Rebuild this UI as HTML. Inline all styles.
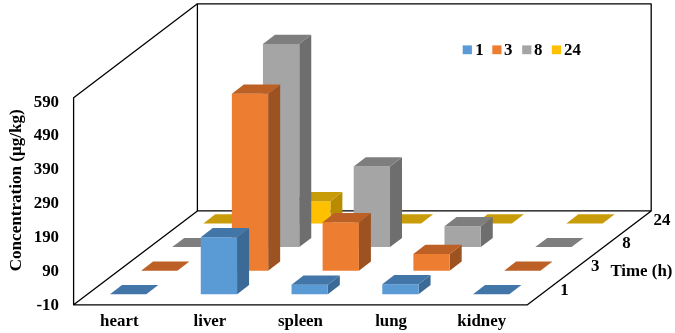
<!DOCTYPE html>
<html><head><meta charset="utf-8"><title>Chart</title>
<style>
html,body{margin:0;padding:0;background:#fff;}
svg{display:block;}
text{font-family:"Liberation Serif","Times New Roman",serif;font-weight:bold;font-size:16px;fill:#000;}
</style></head><body>
<svg width="675" height="333" viewBox="0 0 675 333">
<rect width="675" height="333" fill="#fff"/>
<g fill="none" stroke="#000" stroke-width="1.3" stroke-linejoin="round">
<polyline points="73.60,304.85 73.60,97.70 197.40,3.80 651.20,3.80 651.20,210.95 527.40,304.85 73.60,304.85 197.40,210.95 651.20,210.95"/>
<line x1="197.39999999999998" y1="3.799999999999997" x2="197.39999999999998" y2="210.95000000000002"/>
</g>
<polygon fill="#C89B08" points="203.30,223.50 239.60,223.50 251.60,214.30 215.30,214.30"/>
<polygon fill="#B88B00" points="330.36,223.50 342.36,214.30 342.36,192.00 330.36,201.20"/>
<polygon fill="#FFC000" points="294.06,223.50 330.36,223.50 330.36,201.20 294.06,201.20"/>
<polygon fill="#C89B08" points="294.06,201.20 330.36,201.20 342.36,192.00 306.06,192.00"/>
<polygon fill="#C89B08" points="384.82,223.50 421.12,223.50 433.12,214.30 396.82,214.30"/>
<polygon fill="#C89B08" points="475.58,223.50 511.88,223.50 523.88,214.30 487.58,214.30"/>
<polygon fill="#C89B08" points="566.34,223.50 602.64,223.50 614.64,214.30 578.34,214.30"/>
<polygon fill="#7E7E7E" points="172.20,247.10 208.50,247.10 220.50,237.90 184.20,237.90"/>
<polygon fill="#6E6E6E" points="299.26,247.10 311.26,237.90 311.26,34.80 299.26,44.00"/>
<polygon fill="#A5A5A5" points="262.96,247.10 299.26,247.10 299.26,44.00 262.96,44.00"/>
<polygon fill="#7E7E7E" points="262.96,44.00 299.26,44.00 311.26,34.80 274.96,34.80"/>
<polygon fill="#6E6E6E" points="390.02,247.10 402.02,237.90 402.02,157.20 390.02,166.40"/>
<polygon fill="#A5A5A5" points="353.72,247.10 390.02,247.10 390.02,166.40 353.72,166.40"/>
<polygon fill="#7E7E7E" points="353.72,166.40 390.02,166.40 402.02,157.20 365.72,157.20"/>
<polygon fill="#6E6E6E" points="480.78,247.10 492.78,237.90 492.78,217.10 480.78,226.30"/>
<polygon fill="#A5A5A5" points="444.48,247.10 480.78,247.10 480.78,226.30 444.48,226.30"/>
<polygon fill="#7E7E7E" points="444.48,226.30 480.78,226.30 492.78,217.10 456.48,217.10"/>
<polygon fill="#7E7E7E" points="535.24,247.10 571.54,247.10 583.54,237.90 547.24,237.90"/>
<polygon fill="#BD6025" points="141.10,270.70 177.40,270.70 189.40,261.50 153.10,261.50"/>
<polygon fill="#9C5321" points="268.16,270.70 280.16,261.50 280.16,84.50 268.16,93.70"/>
<polygon fill="#ED7D31" points="231.86,270.70 268.16,270.70 268.16,93.70 231.86,93.70"/>
<polygon fill="#BD6025" points="231.86,93.70 268.16,93.70 280.16,84.50 243.86,84.50"/>
<polygon fill="#9C5321" points="358.92,270.70 370.92,261.50 370.92,213.10 358.92,222.30"/>
<polygon fill="#ED7D31" points="322.62,270.70 358.92,270.70 358.92,222.30 322.62,222.30"/>
<polygon fill="#BD6025" points="322.62,222.30 358.92,222.30 370.92,213.10 334.62,213.10"/>
<polygon fill="#9C5321" points="449.68,270.70 461.68,261.50 461.68,244.70 449.68,253.90"/>
<polygon fill="#ED7D31" points="413.38,270.70 449.68,270.70 449.68,253.90 413.38,253.90"/>
<polygon fill="#BD6025" points="413.38,253.90 449.68,253.90 461.68,244.70 425.38,244.70"/>
<polygon fill="#BD6025" points="504.14,270.70 540.44,270.70 552.44,261.50 516.14,261.50"/>
<polygon fill="#4276A8" points="110.00,294.30 146.30,294.30 158.30,285.10 122.00,285.10"/>
<polygon fill="#3C6A97" points="237.06,294.30 249.06,285.10 249.06,228.10 237.06,237.30"/>
<polygon fill="#5B9BD5" points="200.76,294.30 237.06,294.30 237.06,237.30 200.76,237.30"/>
<polygon fill="#4276A8" points="200.76,237.30 237.06,237.30 249.06,228.10 212.76,228.10"/>
<polygon fill="#3C6A97" points="327.82,294.30 339.82,285.10 339.82,275.50 327.82,284.70"/>
<polygon fill="#5B9BD5" points="291.52,294.30 327.82,294.30 327.82,284.70 291.52,284.70"/>
<polygon fill="#4276A8" points="291.52,284.70 327.82,284.70 339.82,275.50 303.52,275.50"/>
<polygon fill="#3C6A97" points="418.58,294.30 430.58,285.10 430.58,275.00 418.58,284.20"/>
<polygon fill="#5B9BD5" points="382.28,294.30 418.58,294.30 418.58,284.20 382.28,284.20"/>
<polygon fill="#4276A8" points="382.28,284.20 418.58,284.20 430.58,275.00 394.28,275.00"/>
<polygon fill="#4276A8" points="473.04,294.30 509.34,294.30 521.34,285.10 485.04,285.10"/>
<text transform="translate(59.00,106.60) scale(1.055,1)" text-anchor="end">590</text>
<text transform="translate(59.00,140.48) scale(1.055,1)" text-anchor="end">490</text>
<text transform="translate(59.00,174.37) scale(1.055,1)" text-anchor="end">390</text>
<text transform="translate(59.00,208.25) scale(1.055,1)" text-anchor="end">290</text>
<text transform="translate(59.00,242.13) scale(1.055,1)" text-anchor="end">190</text>
<text transform="translate(59.00,276.02) scale(1.055,1)" text-anchor="end">90</text>
<text transform="translate(59.00,309.90) scale(1.055,1)" text-anchor="end">-10</text>
<text transform="translate(119.30,326.30) scale(1.055,1)" text-anchor="middle">heart</text>
<text transform="translate(209.90,326.30) scale(1.055,1)" text-anchor="middle">liver</text>
<text transform="translate(300.50,326.30) scale(1.055,1)" text-anchor="middle">spleen</text>
<text transform="translate(391.10,326.30) scale(1.055,1)" text-anchor="middle">lung</text>
<text transform="translate(481.70,326.30) scale(1.055,1)" text-anchor="middle">kidney</text>
<text transform="translate(560.20,294.80) scale(1.055,1)">1</text>
<text transform="translate(590.90,271.40) scale(1.055,1)">3</text>
<text transform="translate(622.20,248.00) scale(1.055,1)">8</text>
<text transform="translate(653.50,224.60) scale(1.055,1)">24</text>
<text transform="translate(610.40,276.30) scale(1.055,1)">Time (h)</text>
<text transform="translate(21.1,190.3) rotate(-90) scale(1.068,1)" text-anchor="middle">Concentration (μg/kg)</text>
<rect x="462.7" y="45.4" width="9.2" height="8.8" fill="#5B9BD5"/>
<text transform="translate(475.20,54.50) scale(1.055,1)">1</text>
<rect x="492.3" y="45.4" width="9.2" height="8.8" fill="#ED7D31"/>
<text transform="translate(504.00,54.50) scale(1.055,1)">3</text>
<rect x="522.2" y="45.4" width="9.2" height="8.8" fill="#A5A5A5"/>
<text transform="translate(534.00,54.50) scale(1.055,1)">8</text>
<rect x="551.8" y="45.4" width="9.2" height="8.8" fill="#FFC000"/>
<text transform="translate(564.00,54.50) scale(1.055,1)">24</text>
</svg>
</body></html>
